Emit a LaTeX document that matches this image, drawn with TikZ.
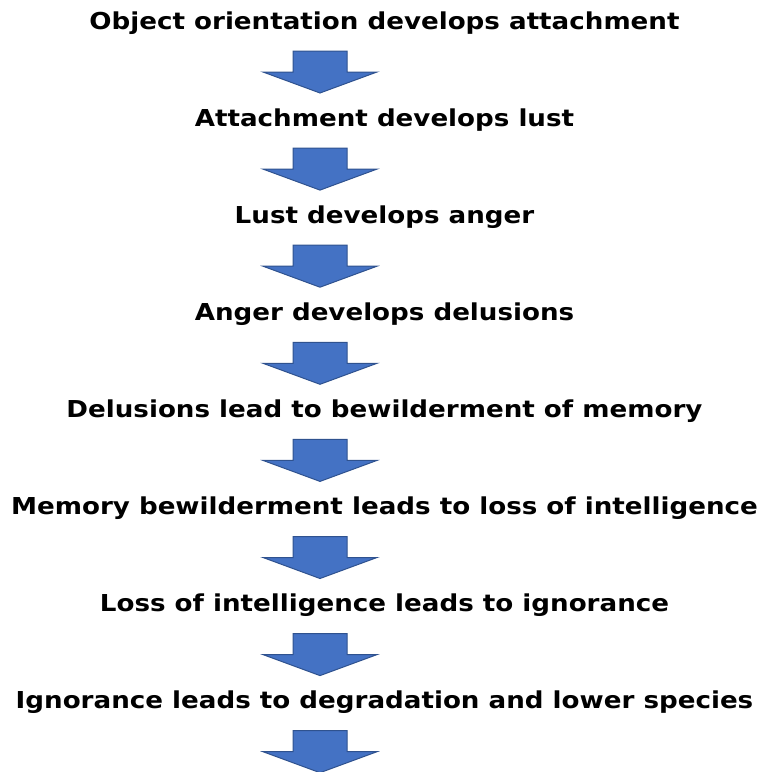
\documentclass[tikz,border=0pt]{standalone}
\usepackage{fontspec}
\setmainfont{DejaVu Sans}
\begin{document}
\begin{tikzpicture}[x=1pt,y=-1pt,
  lbl/.style={anchor=base,inner sep=0pt,font=\fontsize{23.3}{28}\selectfont\bfseries},
  downarrow/.style={fill=arrowfill,draw=arrowedge,line width=1pt,line join=miter}]
\definecolor{arrowfill}{HTML}{4472C4}
\definecolor{arrowedge}{HTML}{2F528F}
\useasboundingbox (0,0) rectangle (767,772);
\foreach \t [count=\i] in {Object orientation develops attachment,
  Attachment develops lust,
  Lust develops anger,
  Anger develops delusions,
  Delusions lead to bewilderment of memory,
  Memory bewilderment leads to loss of intelligence,
  Loss of intelligence leads to ignorance,
  Ignorance leads to degradation and lower species}{
  \pgfmathsetmacro{\yb}{29+(\i-1)*97.1}
  \pgfmathsetmacro{\ya}{51+(\i-1)*97.1}
  \node[lbl] (t\i) at (384.5,\yb) {\scalebox{1.122}[1]{\t}};
  \draw[downarrow] (293,\ya) coordinate (a\i) -- (347,\ya) -- (347,\ya+21) -- (377,\ya+21)
     -- (320,\ya+42) -- (263,\ya+21) -- (293,\ya+21) -- cycle;
}
\end{tikzpicture}
\end{document}
